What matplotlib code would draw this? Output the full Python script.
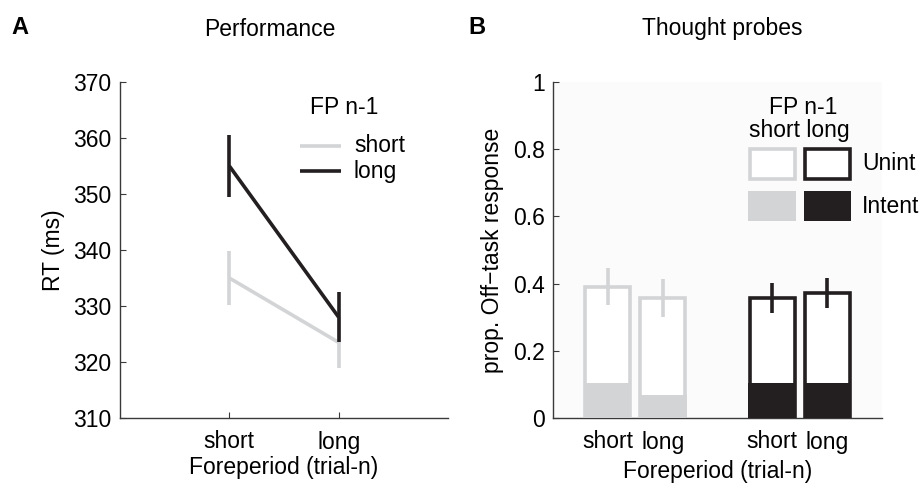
import matplotlib
matplotlib.use("Agg")
import matplotlib.pyplot as plt
from matplotlib.patches import Rectangle
import numpy as np

plt.rcParams['font.family'] = ['Liberation Sans', 'DejaVu Sans']

# ---- data ----
fp_trial = ['short', 'long']          # foreperiod trial-n
rt_prev_short = [335.0, 323.5]        # FP n-1 short
rt_prev_short_err = [4.8, 4.5]
rt_prev_long = [355.0, 328.0]         # FP n-1 long
rt_prev_long_err = [5.5, 4.5]

total_prev_short = [0.39, 0.357]      # off-task total, FP n-1 short (for trial-n short, long)
intent_prev_short = [0.105, 0.067]
err_prev_short = [0.055, 0.057]
total_prev_long = [0.357, 0.373]
intent_prev_long = [0.105, 0.105]
err_prev_long = [0.045, 0.045]

LIGHT = '#d3d4d6'
DARK = '#231f20'
AX = '#3a3a3a'
FS = 16.5

fig = plt.figure(figsize=(9.21, 4.83), dpi=100)
W, H = 921, 483

def add_ax(x0, y0, x1, y1):
    return fig.add_axes([x0 / W, 1 - y1 / H, (x1 - x0) / W, (y1 - y0) / H])

# ---------------- Panel A ----------------
axA = add_ax(120, 82, 448, 418)
xs = np.array([1, 2])
axA.plot(xs, rt_prev_short, color=LIGHT, lw=2.6, solid_capstyle='butt', zorder=2)
axA.errorbar(xs, rt_prev_short, yerr=rt_prev_short_err, fmt='none', ecolor=LIGHT,
             elinewidth=2.6, capsize=0, zorder=2)
axA.plot(xs, rt_prev_long, color=DARK, lw=2.6, solid_capstyle='butt', zorder=3)
axA.errorbar(xs, rt_prev_long, yerr=rt_prev_long_err, fmt='none', ecolor=DARK,
             elinewidth=2.6, capsize=0, zorder=3)
axA.set_xlim(0, 3)
axA.set_ylim(310, 370)
axA.set_yticks(np.arange(310, 371, 10))
axA.set_xticks(xs)
axA.set_xticklabels(fp_trial)
for s in ['top', 'right']:
    axA.spines[s].set_visible(False)
for s in ['left', 'bottom']:
    axA.spines[s].set_color(AX)
    axA.spines[s].set_linewidth(1.0)
axA.tick_params(direction='in', length=4, color=AX, labelsize=FS, pad=6)
axA.tick_params(axis='x', pad=9)
axA.set_ylabel('RT (ms)', fontsize=FS, labelpad=6)
axA.set_xlabel('Foreperiod (trial-n)', fontsize=FS, labelpad=2)
axA.set_facecolor('white')

# legend A
axA.text(2.05, 365.4, 'FP n-1', fontsize=FS, ha='center', va='center')
axA.plot([1.647, 2.02], [358.6, 358.6], color=LIGHT, lw=2.6, solid_capstyle='butt')
axA.plot([1.647, 2.02], [354.1, 354.1], color=DARK, lw=2.6, solid_capstyle='butt')
axA.text(2.14, 358.6, 'short', fontsize=FS, ha='left', va='center')
axA.text(2.14, 354.1, 'long', fontsize=FS, ha='left', va='center')

fig.text(11 / W, 1 - 28 / H, 'A', fontsize=17, fontweight='bold', va='center', ha='left')
fig.text(270 / W, 1 - 29 / H, 'Performance', fontsize=FS, va='center', ha='center')

# ---------------- Panel B ----------------
axB = add_ax(553, 82, 882, 418)
axB.set_facecolor('#fbfbfb')
off = 0.1675
bw = 0.274
groups = np.array([1, 2])
pos = [groups[0] - off, groups[0] + off, groups[1] - off, groups[1] + off]
totals = [total_prev_short[0], total_prev_short[1], total_prev_long[0], total_prev_long[1]]
intents = [intent_prev_short[0], intent_prev_short[1], intent_prev_long[0], intent_prev_long[1]]
errs = [err_prev_short[0], err_prev_short[1], err_prev_long[0], err_prev_long[1]]
cols = [LIGHT, LIGHT, DARK, DARK]

axB.bar(pos, totals, width=bw, facecolor='white', edgecolor='none', zorder=1.5)
axB.bar(pos, intents, width=bw + 0.015, color=cols, edgecolor='none', zorder=2)
axB.bar(pos, totals, width=bw, facecolor='none', edgecolor=cols, linewidth=2.6, zorder=3)
for p, t, e, c in zip(pos, totals, errs, cols):
    axB.errorbar([p], [t], yerr=[e], fmt='none', ecolor=c, elinewidth=2.6, capsize=0, zorder=4)

axB.set_xlim(0.5, 2.5)
axB.set_ylim(0, 1)
axB.set_yticks([0, 0.2, 0.4, 0.6, 0.8, 1])
axB.set_yticklabels(['0', '0.2', '0.4', '0.6', '0.8', '1'])
axB.set_xticks(pos)
axB.set_xticklabels(fp_trial * 2)
for s in ['top', 'right']:
    axB.spines[s].set_visible(False)
for s in ['left', 'bottom']:
    axB.spines[s].set_color(AX)
    axB.spines[s].set_linewidth(1.0)
axB.tick_params(axis='y', direction='in', length=4, color=AX, labelsize=FS, pad=6)
axB.tick_params(axis='x', length=0, labelsize=FS, pad=9)
axB.set_ylabel('prop. Off\u2212task response', fontsize=FS, labelpad=6)
axB.set_xlabel('Foreperiod (trial-n)', fontsize=FS, labelpad=5)

# legend B
lx = [groups[1] - off, groups[1] + off]
axB.text(2.02, 0.923, 'FP n-1', fontsize=FS, ha='center', va='center')
axB.text(2.0, 0.857, 'short long', fontsize=FS, ha='center', va='center')
for x, c in zip(lx, [LIGHT, DARK]):
    axB.add_patch(Rectangle((x - bw / 2, 0.712), bw, 0.088, facecolor='white',
                            edgecolor=c, linewidth=2.6, zorder=3))
    axB.add_patch(Rectangle((x - bw / 2 - 0.0075, 0.585), bw + 0.015, 0.09, facecolor=c,
                            edgecolor='none', zorder=3))
axB.text(2.378, 0.756, 'Unint', fontsize=FS, ha='left', va='center', clip_on=False)
axB.text(2.378, 0.63, 'Intent', fontsize=FS, ha='left', va='center', clip_on=False)

fig.text(468 / W, 1 - 28 / H, 'B', fontsize=17, fontweight='bold', va='center', ha='left')
fig.text(722 / W, 1 - 29 / H, 'Thought probes', fontsize=FS, va='center', ha='center')

fig.savefig('out.png', dpi=100, facecolor='white')
